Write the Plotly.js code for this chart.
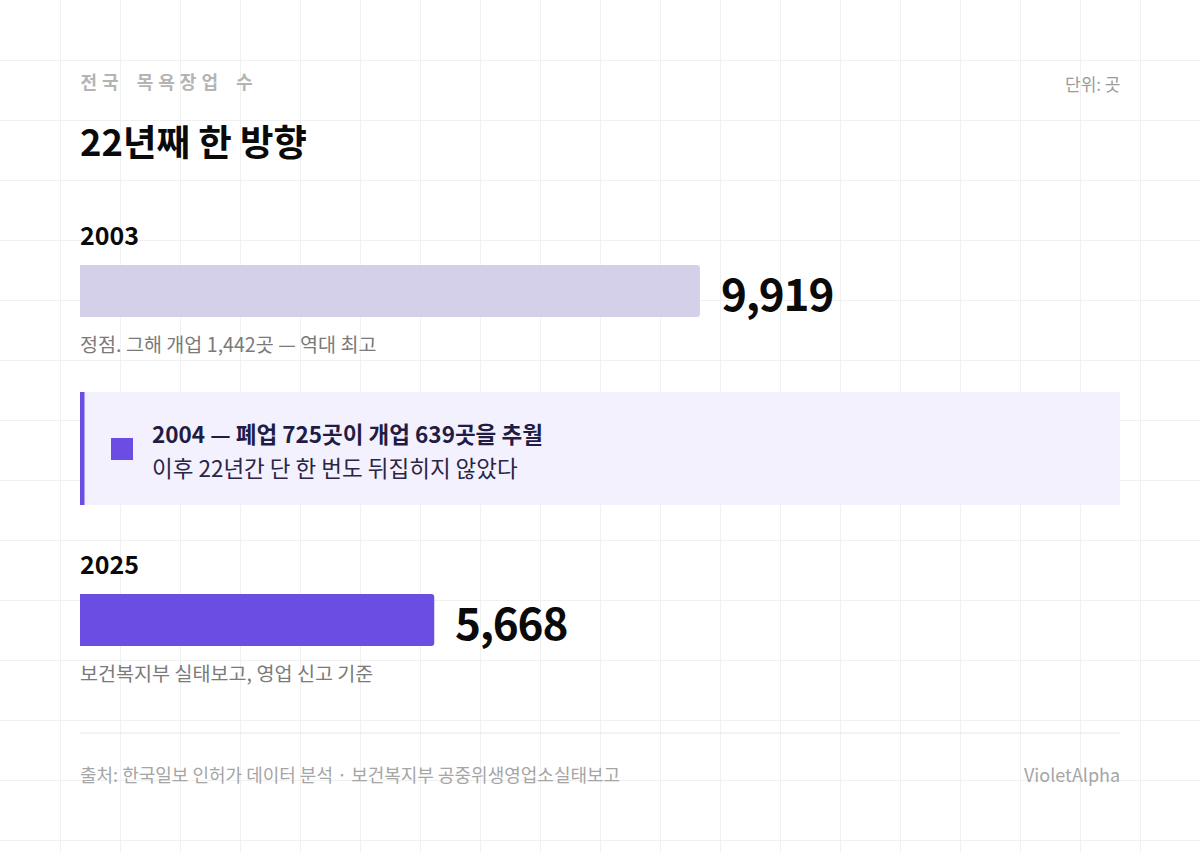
<!DOCTYPE html>
<html>
<head>
<meta charset="utf-8">
<script src="https://cdn.plot.ly/plotly-3.0.1.min.js"></script>
<style>
  html, body { margin: 0; padding: 0; background: #ffffff; }
  #chart { width: 1200px; height: 852px; }
  .annotation[data-index="0"] text { letter-spacing: 5px; word-spacing: 4px; }
  .annotation[data-index="8"] text, .annotation[data-index="11"] text { letter-spacing: -1.2px; }
</style>
</head>
<body>
<div id="chart"></div>
<script>
// ---- data ----
const years = ['2003', '2025'];
const counts = [9919, 5668];
const barColors = ['#d5d0ea', '#6c4de3'];
const notes = ['정점. 그해 개업 1,442곳 — 역대 최고', '보건복지부 실태보고, 영업 신고 기준'];
const kicker = '전국 목욕장업 수';
const headline = '22년째 한 방향';
const unitLabel = '단위: 곳';
const calloutTitle = '2004 — 폐업 725곳이 개업 639곳을 추월';
const calloutBody = '이후 22년간 단 한 번도 뒤집히지 않았다';
const sourceText = '출처: 한국일보 인허가 데이터 분석 · 보건복지부 공중위생영업소실태보고';
const brand = 'VioletAlpha';

// ---- layout helpers ----
const W = 1200, H = 852;
const FONT = '"Noto Sans CJK KR", "Noto Sans", sans-serif';
const px = v => v / W;
const py = v => 1 - v / H;
const fmt = n => n.toLocaleString('en-US');

const traces = [
  // background grid subplot (invisible point only to instantiate axes)
  { type: 'scatter', x: [0], y: [0], xaxis: 'x', yaxis: 'y', mode: 'markers',
    marker: { opacity: 0 }, hoverinfo: 'skip', showlegend: false },
  // bars
  { type: 'bar', orientation: 'h', x: counts, y: years, xaxis: 'x2', yaxis: 'y2',
    marker: { color: barColors }, width: 0.158, hoverinfo: 'skip', showlegend: false }
];

const annotations = [];
function addText(text, x, y, opts) {
  annotations.push(Object.assign({
    text: text, x: px(x), y: py(y), xref: 'paper', yref: 'paper',
    showarrow: false, xanchor: 'left', yanchor: 'middle'
  }, opts));
}
// index 0 must be the kicker (letter-spacing css); compensate centred spacing with xshift
addText(kicker, 78, 81, { xshift: 26.5, font: { family: FONT, size: 18, color: '#b4b4b4', weight: 700 } });
addText(unitLabel, 1122, 83, { xanchor: 'right', font: { family: FONT, size: 17, color: '#9a9a9a' } });
addText(headline, 78, 140, { font: { family: FONT, size: 36.4, color: '#0a0a0a', weight: 700 } });
addText(calloutTitle, 150, 433, { font: { family: FONT, size: 22.5, color: '#221c44', weight: 700 } });
addText(calloutBody, 150, 467, { font: { family: FONT, size: 22.5, color: '#2a2545' } });
addText(sourceText, 78, 774, { font: { family: FONT, size: 18, color: '#a5a5a5' } });
addText(brand, 1122, 774, { xanchor: 'right', font: { family: FONT, size: 18, color: '#a5a5a5' } });

years.forEach((yr, i) => {
  // year label above bar (category axes take the serial index)
  annotations.push({ text: yr, x: 0, y: i, xref: 'x2', yref: 'y2', showarrow: false,
    xanchor: 'left', yanchor: 'middle', xshift: -2, yshift: 57,
    font: { family: FONT, size: 25, color: '#0a0a0a', weight: 700 } });
  // value label
  annotations.push({ text: fmt(counts[i]), x: counts[i], y: i, xref: 'x2', yref: 'y2', showarrow: false,
    xanchor: 'left', yanchor: 'middle', xshift: 16, yshift: -1,
    font: { family: FONT, size: 44, color: '#0a0a0a', weight: 700 } });
  // note below bar
  annotations.push({ text: notes[i], x: 0, y: i, xref: 'x2', yref: 'y2', showarrow: false,
    xanchor: 'left', yanchor: 'middle', xshift: -2, yshift: -52,
    font: { family: FONT, size: 19.6, color: '#7a7a7a' } });
});

const shapes = [
  // callout box
  { type: 'rect', xref: 'paper', yref: 'paper', x0: px(80), x1: px(1120), y0: py(392), y1: py(505),
    fillcolor: '#f3f1fe', line: { width: 0 }, layer: 'above' },
  // callout left accent
  { type: 'rect', xref: 'paper', yref: 'paper', x0: px(80), x1: px(84.5), y0: py(392), y1: py(505),
    fillcolor: '#6c4de3', line: { width: 0 }, layer: 'above' },
  // callout square icon
  { type: 'rect', xref: 'paper', yref: 'paper', x0: px(111), x1: px(133), y0: py(438), y1: py(460),
    fillcolor: '#6c4de3', line: { width: 0 }, layer: 'above' },
  // footer rule
  { type: 'line', xref: 'paper', yref: 'paper', x0: px(80), x1: px(1120), y0: py(733), y1: py(733),
    line: { color: '#e6e6e6', width: 1 }, layer: 'above' }
];

// category axis: bar centres at 291px and 620px from top
const c0 = 291, step = 329;
const yTop = -c0 / step, yBot = yTop + H / step;

const layout = {
  width: W, height: H, autosize: false,
  margin: { l: 0, r: 0, t: 0, b: 0, pad: 0 },
  paper_bgcolor: '#ffffff', plot_bgcolor: 'rgba(0,0,0,0)',
  barcornerradius: 3,
  showlegend: false,
  xaxis: { domain: [0, 1], range: [0, W], dtick: 60, tick0: 0, showgrid: true, gridcolor: '#f0f0f0',
    gridwidth: 1, zeroline: false, showticklabels: false, ticks: '', showline: false, fixedrange: true },
  yaxis: { domain: [0, 1], range: [H, 0], dtick: 60, tick0: 0, showgrid: true, gridcolor: '#f0f0f0',
    gridwidth: 1, zeroline: false, showticklabels: false, ticks: '', showline: false, fixedrange: true },
  xaxis2: { domain: [px(80), px(1120)], range: [0, 16640], anchor: 'y2', showgrid: false, zeroline: false,
    showticklabels: false, ticks: '', showline: false, fixedrange: true },
  yaxis2: { domain: [0, 1], type: 'category', categoryorder: 'array', categoryarray: years,
    range: [yBot, yTop], anchor: 'x2',
    showgrid: false, zeroline: false, showticklabels: false, ticks: '', showline: false, fixedrange: true },
  annotations: annotations,
  shapes: shapes,
  font: { family: FONT }
};

Plotly.newPlot('chart', traces, layout, { displayModeBar: false, staticPlot: true });
</script>
</body>
</html>
